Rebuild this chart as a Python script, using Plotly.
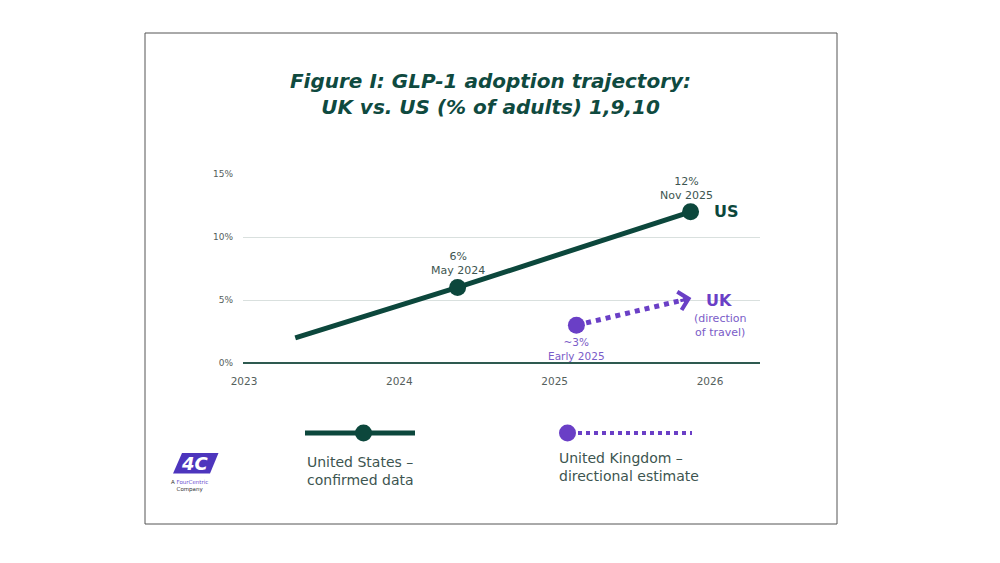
import plotly.graph_objects as go

# ---------------- data ----------------
us_x = [2023.33, 2024.375, 2025.875]      # May 2023, May 2024, Nov 2025
us_y = [2.0, 6.0, 12.0]
us_marker = [0, 17, 17]
uk_x = [2025.14, 2025.88]                  # Early 2025 -> direction of travel
uk_y = [3.0, 5.15]
uk_marker = [17, 0]
x_ticks = [2023, 2024, 2025, 2026]
x_tick_labels = ["2023", "2024", "2025", "2026"]
y_ticks = [0, 5, 10, 15]
y_tick_labels = ["0%", "5%", "10%", "15%"]

GREEN = "#0c473c"
PURPLE = "#6a3fc6"
PURPLE_TXT = "#7a5cc8"
LABEL = "#3d5550"
FONT = "DejaVu Sans"

# plot area in pixels: x 243..760, y 174..363
L, R, T, B = 243, 760, 174, 363
W, H = 1000, 563

def px(x):
    return (x - L) / (R - L)

def py(y):
    return (B - y) / (B - T)

fig = go.Figure()

fig.add_trace(go.Scatter(
    x=us_x, y=us_y, mode="lines+markers",
    line=dict(color=GREEN, width=5),
    marker=dict(size=us_marker, color=GREEN, opacity=1, line=dict(width=0)),
    hoverinfo="skip", showlegend=False, cliponaxis=False))

fig.add_trace(go.Scatter(
    x=uk_x, y=uk_y, mode="lines+markers",
    line=dict(color=PURPLE, width=5, dash="dot"),
    marker=dict(size=uk_marker, color=PURPLE, opacity=1, line=dict(width=0)),
    hoverinfo="skip", showlegend=False, cliponaxis=False))

ann = []
# arrow head (chevron) at the end of UK line
back = 0.1
ann.append(dict(x=uk_x[1], y=uk_y[1], xref="x", yref="y",
                ax=uk_x[1] - back * (uk_x[1] - uk_x[0]),
                ay=uk_y[1] - back * (uk_y[1] - uk_y[0]),
                axref="x", ayref="y", text="", showarrow=True,
                font=dict(size=1), borderpad=0,
                arrowhead=4, arrowsize=1.2, arrowwidth=3, arrowcolor=PURPLE))

# data labels
ann.append(dict(x=us_x[1], y=us_y[1], xref="x", yref="y", text="6%<br>May 2024",
                showarrow=False, xanchor="center", yanchor="bottom", yshift=8,
                font=dict(family=FONT, size=11, color=LABEL)))
ann.append(dict(x=us_x[2], y=us_y[2], xref="x", yref="y", text="12%<br>Nov 2025",
                showarrow=False, xanchor="center", yanchor="bottom", yshift=8, xshift=-4,
                font=dict(family=FONT, size=11, color=LABEL)))
ann.append(dict(x=us_x[2], y=us_y[2], xref="x", yref="y", text="<b>US</b>",
                showarrow=False, xanchor="left", yanchor="middle", xshift=21,
                font=dict(family=FONT, size=16, color=GREEN)))
ann.append(dict(x=uk_x[1], y=uk_y[1], xref="x", yref="y", text="<b>UK</b>",
                showarrow=False, xanchor="center", yanchor="middle", xshift=28, yshift=-2,
                font=dict(family=FONT, size=16, color=PURPLE)))
ann.append(dict(x=uk_x[1], y=uk_y[1], xref="x", yref="y", text="(direction<br>of travel)",
                showarrow=False, xanchor="center", yanchor="top", xshift=29, yshift=-12,
                font=dict(family=FONT, size=11, color=PURPLE_TXT)))
ann.append(dict(x=uk_x[0], y=uk_y[0], xref="x", yref="y", text="~3%<br>Early 2025",
                showarrow=False, xanchor="center", yanchor="top", yshift=-9,
                font=dict(family=FONT, size=10.5, color=PURPLE_TXT)))

# legend texts
ann.append(dict(x=px(305), y=py(470.5), xref="paper", yref="paper",
                text="United States –<br>confirmed data", align="left",
                showarrow=False, xanchor="left", yanchor="middle",
                font=dict(family=FONT, size=14, color=LABEL)))
ann.append(dict(x=px(557), y=py(467), xref="paper", yref="paper",
                text="United Kingdom –<br>directional estimate", align="left",
                showarrow=False, xanchor="left", yanchor="middle",
                font=dict(family=FONT, size=14, color=LABEL)))

# logo texts
ann.append(dict(x=px(195), y=py(463), xref="paper", yref="paper",
                text="<b><i>4C</i></b>", showarrow=False,
                xanchor="center", yanchor="middle",
                font=dict(family=FONT, size=18, color="white")))
ann.append(dict(x=px(189), y=py(485.5), xref="paper", yref="paper",
                text='A <span style="color:#6a4fd0">FourCentric</span><br>Company',
                showarrow=False, align="center", xanchor="center", yanchor="middle",
                font=dict(family=FONT, size=5.5, color="#333333")))

shapes = []
# border
shapes.append(dict(type="rect", xref="paper", yref="paper",
                   x0=px(145), x1=px(837), y0=py(33), y1=py(524),
                   line=dict(color="#555555", width=1), fillcolor="rgba(0,0,0,0)", layer="below"))
# US legend swatch
shapes.append(dict(type="line", xref="paper", yref="paper",
                   x0=px(305), x1=px(415), y0=py(433), y1=py(433),
                   line=dict(color=GREEN, width=5)))
shapes.append(dict(type="circle", xref="paper", yref="paper",
                   x0=px(355), x1=px(372), y0=py(424.5), y1=py(441.5),
                   line=dict(width=0), fillcolor=GREEN))
# UK legend swatch
shapes.append(dict(type="line", xref="paper", yref="paper",
                   x0=px(570), x1=px(692), y0=py(433), y1=py(433),
                   line=dict(color=PURPLE, width=4, dash="dot")))
shapes.append(dict(type="circle", xref="paper", yref="paper",
                   x0=px(559), x1=px(576), y0=py(424.5), y1=py(441.5),
                   line=dict(width=0), fillcolor=PURPLE))
# logo parallelogram
path = "M {} {} L {} {} L {} {} L {} {} Z".format(
    px(173), py(473.5), px(182), py(453), px(218.5), py(453), px(210), py(473.5))
shapes.append(dict(type="path", xref="paper", yref="paper", path=path,
                   fillcolor="#4d35bd", line=dict(width=0), layer="below"))

fig.update_layout(
    width=W, height=H,
    margin=dict(l=L, r=W - R, t=T, b=H - B, pad=0),
    paper_bgcolor="white", plot_bgcolor="white",
    title=dict(text="Figure I: GLP-1 adoption trajectory:<br>UK vs. US (% of adults) 1,9,10",
               x=490.5 / W, xanchor="center", xref="container",
               y=1 - 87.5 / H, yanchor="middle", yref="container",
               font=dict(family=FONT, size=20, color="#0f4a3f", weight="bold", style="italic")),
    xaxis=dict(range=[2023 - 1 / 155.33, 2023 + (R - 244) / 155.33],
               tickvals=x_ticks, ticktext=x_tick_labels, showgrid=False,
               zeroline=False, showline=False, ticks="", ticklabelstandoff=10,
               tickfont=dict(family=FONT, size=10.5, color="#55605c"), fixedrange=True),
    yaxis=dict(range=[0, 15], tickvals=y_ticks, ticktext=y_tick_labels,
               showgrid=True, gridcolor="#d9e0de", gridwidth=1,
               zeroline=True, zerolinecolor="#2e5a50", zerolinewidth=1.5,
               showline=False, ticks="", ticklabelstandoff=9,
               tickfont=dict(family=FONT, size=9, color="#55605c"), fixedrange=True),
    annotations=ann, shapes=shapes, showlegend=False,
)

fig.write_html("out.html")
